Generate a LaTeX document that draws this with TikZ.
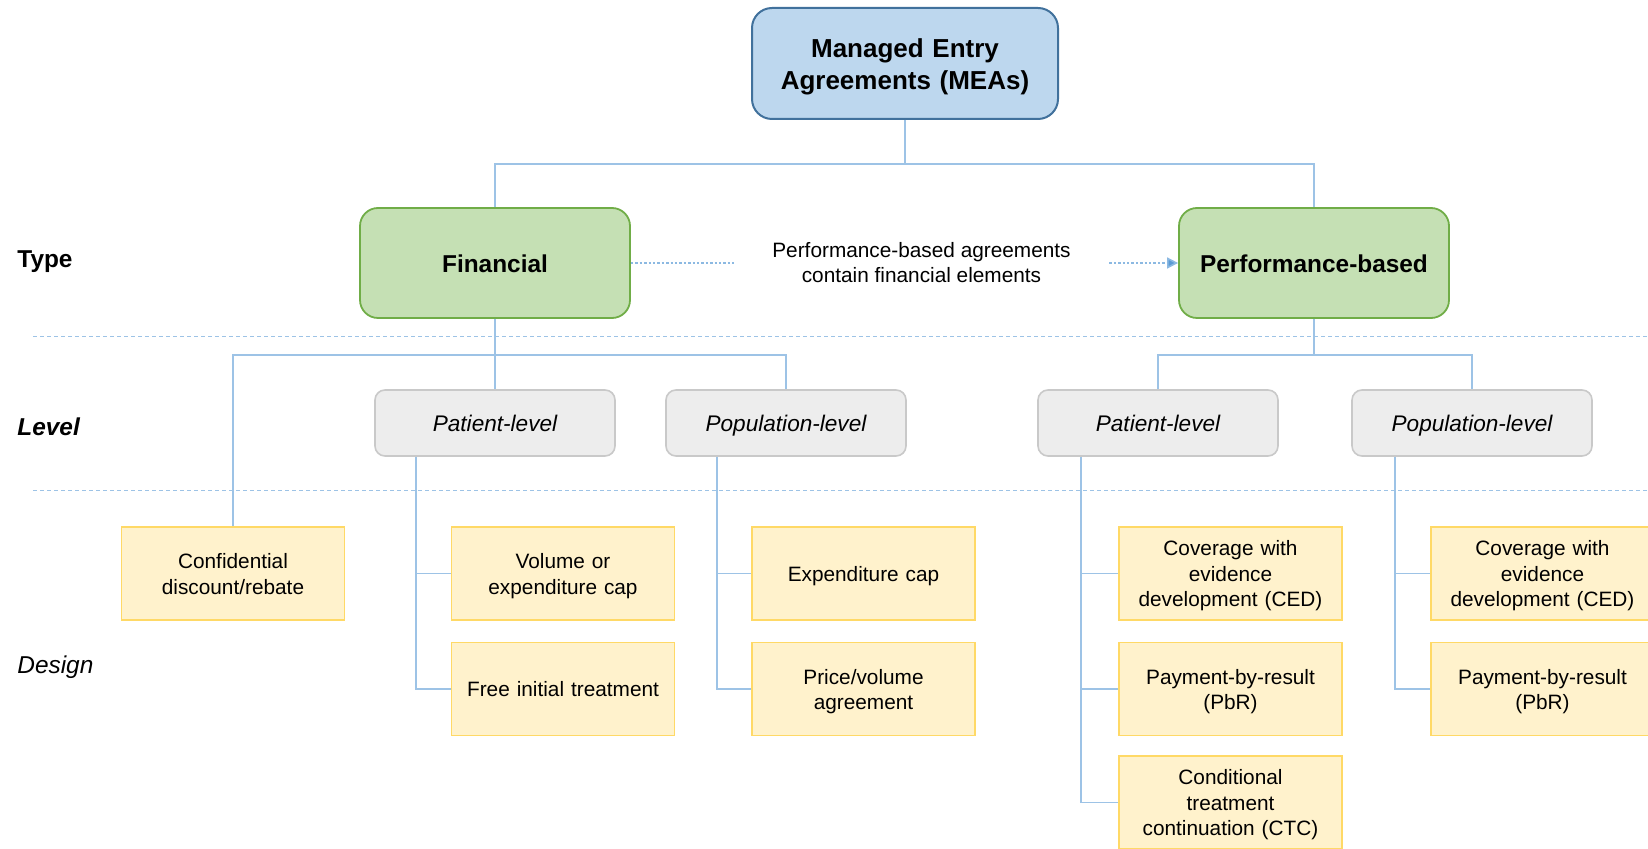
\documentclass[tikz,border=0pt]{standalone}
\usepackage{fontspec}
\setmainfont{Liberation Sans}
\usetikzlibrary{arrows.meta}

\definecolor{meafill}{HTML}{BDD7EE}
\definecolor{meadraw}{HTML}{41719C}
\definecolor{typefill}{HTML}{C5E0B4}
\definecolor{typedraw}{HTML}{70AD47}
\definecolor{levelfill}{HTML}{EDEDED}
\definecolor{leveldraw}{HTML}{C9C9C9}
\definecolor{designfill}{HTML}{FFF2CC}
\definecolor{designdraw}{HTML}{FFD966}
\definecolor{linkblue}{HTML}{9DC3E6}
\definecolor{arrowblue}{HTML}{5B9BD5}

% line strut, so that text sits in its box as in the slide
\newcommand{\linestrut}{\rule[-0.19\baselineskip]{0pt}{\baselineskip}}

\tikzset{
  boxtext/.style={align=center, inner sep=0pt,
    execute at begin node=\linestrut, execute at end node=\linestrut},
  meabox/.style={boxtext, text width=150pt, rectangle, rounded corners=10pt, draw=meadraw, fill=meafill,
    line width=1pt, minimum width=153pt, minimum height=55.5pt,
    font=\fontsize{13pt}{16.3pt}\selectfont\bfseries},
  typebox/.style={boxtext, text width=130pt, rectangle, rounded corners=9pt, draw=typedraw, fill=typefill,
    line width=0.9pt, minimum width=135pt, minimum height=55pt,
    font=\fontsize{12.2pt}{15pt}\selectfont\bfseries},
  levelbox/.style={boxtext, text width=115pt, rectangle, rounded corners=5pt, draw=leveldraw, fill=levelfill,
    line width=0.8pt, minimum width=120pt, minimum height=33pt,
    font=\fontsize{11.3pt}{14pt}\selectfont\itshape},
  designbox/.style={boxtext, text width=108pt, rectangle, draw=designdraw, fill=designfill,
    line width=0.85pt, minimum width=111.5pt, minimum height=46.5pt,
    font=\fontsize{10.4pt}{12.7pt}\selectfont},
  rowlabel/.style={anchor=base west, inner sep=0pt, font=\fontsize{12.2pt}{15pt}\selectfont},
  link/.style={draw=linkblue, line width=0.65pt},
  separator/.style={draw=linkblue, line width=0.5pt, dash pattern=on 2pt off 1.5pt},
}

\begin{document}
\begin{tikzpicture}[x=0.5pt, y=-0.5pt]
\useasboundingbox (0,0) rectangle (1648,849);

% row labels
\node (type) at (17, 268) [rowlabel] {\bfseries Type};
\node (level) at (17, 436) [rowlabel] {\bfseries\itshape Level};
\node (design) at (17, 673) [rowlabel] {\itshape Design};

\path[separator] (33, 337) -- (1648, 337);
\path[separator] (33, 491) -- (1648, 491);

% top and type
\node (mea) at (905, 63.5) [meabox] {Managed Entry\\Agreements (MEAs)};
\node (fin) at (495, 263) [typebox] {Financial};
\node (perf) at (1314, 263) [typebox] {Performance-based};
\node (note) at (921.5, 263) [minimum width=187.5pt, align=center, inner sep=0pt,
  font=\fontsize{10.4pt}{12.5pt}\selectfont] {Performance-based agreements\\contain financial elements};

% level
\node (finpat) at (495, 423) [levelbox] {Patient-level};
\node (finpop) at (786, 423) [levelbox] {Population-level};
\node (perfpat) at (1158, 423) [levelbox] {Patient-level};
\node (perfpop) at (1472, 423) [levelbox] {Population-level};

% design
\begin{scope}[every node/.style={designbox}]
    \node (conf) at (233, 573.5) {Confidential\\discount/rebate};

    \node (volcap) at (563, 573.5) {Volume or\\expenditure cap};
    \node (freetr) at (563, 689) {Free initial treatment};

    \node (expcap) at (863.5, 573.5) {Expenditure cap};
    \node (pricevol) at (863.5, 689) {Price/volume\\agreement};

    \node (ced1) at (1230.5, 573.5) {Coverage with\\evidence\\development (CED)};
    \node (pbr1) at (1230.5, 689) {Payment-by-result\\(PbR)};
    \node (ctc) at (1230.5, 802.5) {Conditional\\treatment\\continuation (CTC)};

    \node (ced2) at (1542.5, 573.5) {Coverage with\\evidence\\development (CED)};
    \node (pbr2) at (1542.5, 689) {Payment-by-result\\(PbR)};
\end{scope}

% connectors
\coordinate (topbus) at (905, 164);
\coordinate (finbus) at (495, 355);
\coordinate (perfbus) at (1314, 355);
\coordinate (finpatx) at (416, 457);
\coordinate (finpopx) at (717, 457);
\coordinate (perfpatx) at (1081, 457);
\coordinate (perfpopx) at (1395, 457);

\begin{scope}[every path/.style={link}]
    \path (mea.south) -- (topbus);
    \path (fin.north) |- (topbus) -| (perf.north);

    \path (fin.south) -- (finpat.north);
    \path (conf.north) |- (finbus) -| (finpop.north);
    \path (perf.south) -- (perfbus);
    \path (perfpat.north) |- (perfbus) -| (perfpop.north);

    \path (finpatx) |- (freetr.west);
    \path (finpatx |- volcap.west) -- (volcap.west);
    \path (finpopx) |- (pricevol.west);
    \path (finpopx |- expcap.west) -- (expcap.west);
    \path (perfpatx) |- (ctc.west);
    \path (perfpatx |- ced1.west) -- (ced1.west);
    \path (perfpatx |- pbr1.west) -- (pbr1.west);
    \path (perfpopx) |- (pbr2.west);
    \path (perfpopx |- ced2.west) -- (ced2.west);
\end{scope}

% dotted note arrow
\begin{scope}[draw=arrowblue!70, line width=0.8pt, dash pattern=on 1.2pt off 1pt]
    \draw (fin.east) -- (note.west);
    \draw [-{Triangle[length=5.5pt, width=5.5pt, fill=arrowblue]}] (note.east) -- (perf.west);
\end{scope}
\end{tikzpicture}
\end{document}
